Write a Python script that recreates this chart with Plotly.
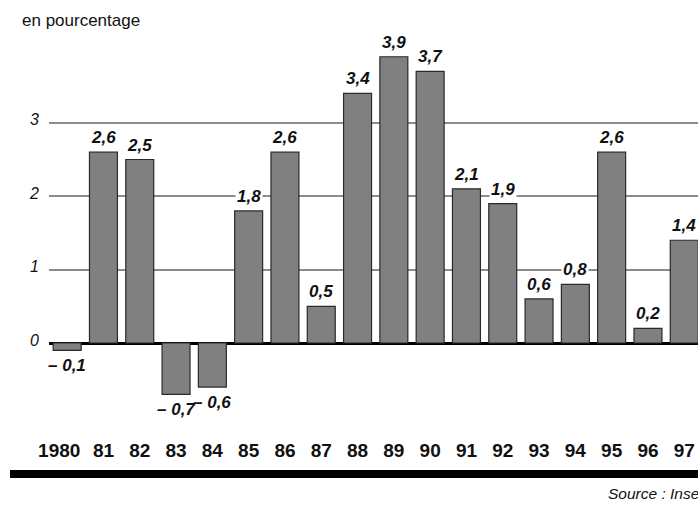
import plotly.graph_objects as go

# Annual change, in percent
years = ["1980", "81", "82", "83", "84", "85", "86", "87", "88",
         "89", "90", "91", "92", "93", "94", "95", "96", "97"]
values = [-0.1, 2.6, 2.5, -0.7, -0.6, 1.8, 2.6, 0.5, 3.4,
          3.9, 3.7, 2.1, 1.9, 0.6, 0.8, 2.6, 0.2, 1.4]
y_ticks = [0, 1, 2, 3]

W, H = 698, 507
L_MARGIN, B_MARGIN = 49, 74
PLOT_H = H - B_MARGIN
ZERO_PX = 343          # pixel row of the zero line
PX_PER_UNIT = 73.4     # vertical scale
CAT_PX = 36.3          # spacing between categories

y_top = ZERO_PX / PX_PER_UNIT
y_bottom = -(PLOT_H - ZERO_PX) / PX_PER_UNIT
x_right = -0.5 + (W - L_MARGIN) / CAT_PX

SANS = "Liberation Sans, Arial, sans-serif"

pos = list(range(len(years)))


def fmt(v):
    s = f"{abs(v):.1f}".replace(".", ",")
    return f"– {s}" if v < 0 else s


fig = go.Figure(go.Bar(
    x=pos, y=values, width=0.77,
    marker=dict(color="#808080", line=dict(color="#2a2a2a", width=1.2)),
    hoverinfo="skip",
))

# value labels; those above the bars sit on a white ground so they break the grid lines
for p, v in zip(pos, values):
    fig.add_annotation(
        x=p, y=v, xref="x", yref="y", text=fmt(v), showarrow=False,
        yanchor="bottom" if v >= 0 else "top",
        yshift=3 if v >= 0 else -4,
        bgcolor="white" if v >= 0 else "rgba(0,0,0,0)", borderpad=1,
        font=dict(family=SANS, size=17, color="#111", style="italic", weight="bold"),
    )

def px_x(p):
    return (p - L_MARGIN) / (W - L_MARGIN)

def px_y(p):
    return (PLOT_H - p) / PLOT_H

fig.add_annotation(
    x=px_x(20), y=px_y(21), xref="paper", yref="paper", text="en pourcentage",
    showarrow=False, xanchor="left", yanchor="middle",
    font=dict(family=SANS, size=17, color="#111"),
)
fig.add_annotation(
    x=px_x(606), y=px_y(493), xref="paper", yref="paper", text="Source : Insee",
    showarrow=False, xanchor="left", yanchor="middle",
    font=dict(family=SANS, size=15.5, color="#111", style="italic"),
)

# heavy rule under the year labels
fig.add_shape(
    type="rect", xref="paper", yref="paper",
    x0=px_x(10), x1=px_x(W + 5), y0=px_y(478), y1=px_y(470),
    fillcolor="black", line=dict(width=0), layer="above",
)

tick_text = [years[0] + "\u00a0\u00a0\u00a0"] + years[1:]

fig.update_layout(
    width=W, height=H,
    margin=dict(l=L_MARGIN, r=0, t=0, b=B_MARGIN, pad=0),
    plot_bgcolor="white", paper_bgcolor="white",
    showlegend=False,
    xaxis=dict(
        range=[-0.5, x_right],
        tickmode="array", tickvals=pos, ticktext=tick_text, tickangle=0,
        showgrid=False, zeroline=False, showline=False, ticks="",
        tickfont=dict(family=SANS, size=19, color="#111", weight="bold"),
        ticklabelstandoff=4,
    ),
    yaxis=dict(
        range=[y_bottom, y_top], tickvals=y_ticks,
        showgrid=True, gridcolor="#8c8c8c", gridwidth=2,
        zeroline=True, zerolinecolor="black", zerolinewidth=2.5,
        showline=False, ticks="",
        tickfont=dict(family=SANS, size=16, color="#111", style="italic"),
        ticklabelstandoff=9, ticklabelshift=-3,
    ),
)

fig.write_html("out.html")
